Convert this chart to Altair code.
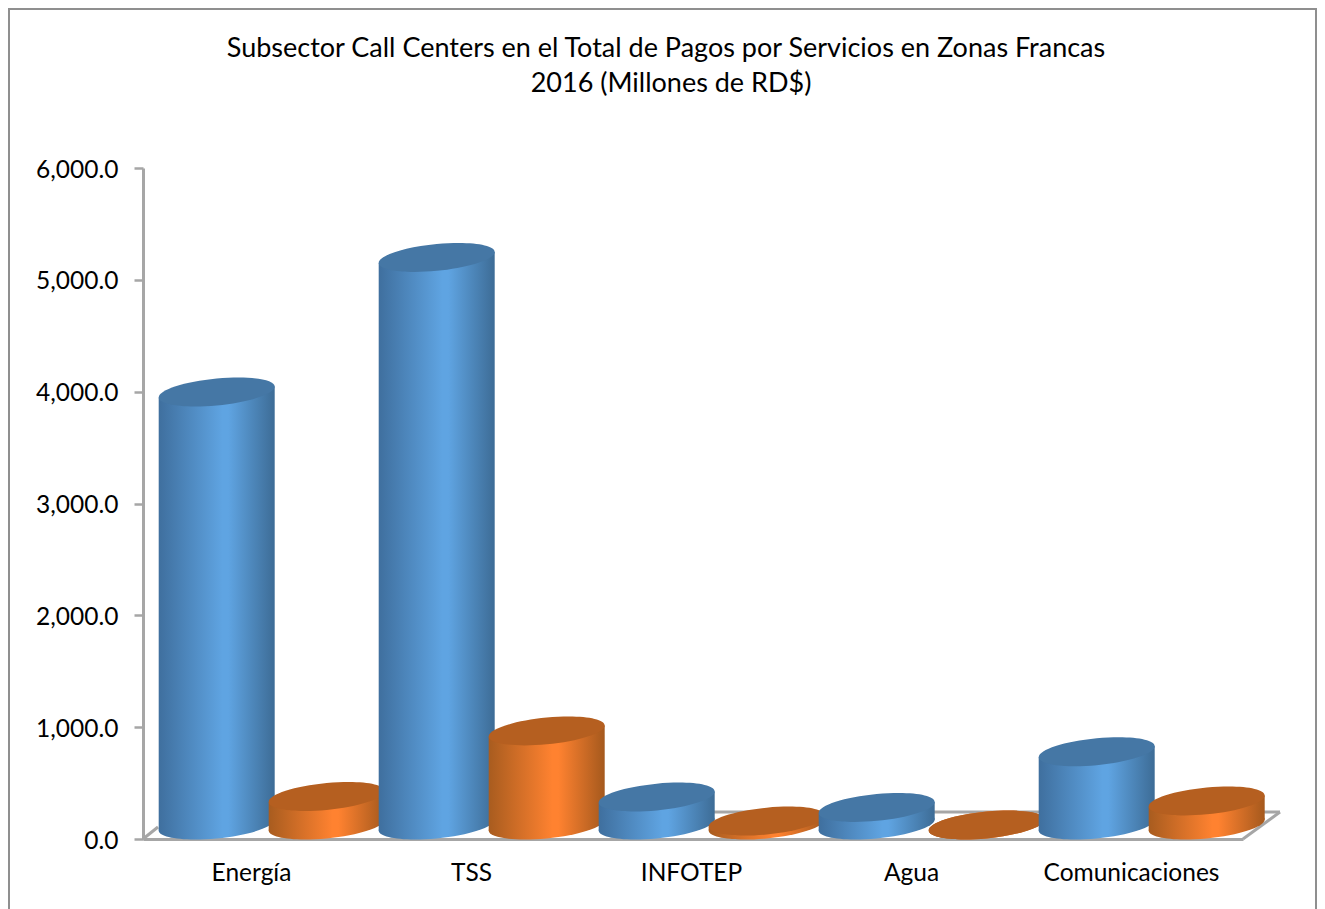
import altair as alt
import pandas as pd

title_lines = ["Subsector Call Centers en el Total de Pagos por Servicios en Zonas Francas",
               "2016 (Millones de RD$)"]
categories = ["Energía", "TSS", "INFOTEP", "Agua", "Comunicaciones"]
serie_total = [3997, 5200, 375, 282, 780]
serie_call = [380, 966, 160, 125, 340]
FLOOR = 125
FONT = "Lato"
GREY = "#a6a6a6"

BAR_W = 116
WIDTH = 1100
HEIGHT = 671
TILT = 49  # half of the tilt of a cylinder end, in axis units
HALF = 58 / 220  # half a cylinder, in category units


def px(v):
    return v - 143


def py(v):
    return v - 168


rows, body = [], []
for i, c in enumerate(categories):
    for name, off, v in (("total", 0.335, serie_total[i]), ("call", 0.835, serie_call[i])):
        n = len(rows)
        rows.append(dict(id=n, cat=c, pos=i + off, val=v, base=FLOOR, s=name))
        body.append(dict(id=n, pos=i + off - HALF, val=v - TILT, base=FLOOR - TILT))
        body.append(dict(id=n, pos=i + off + HALF, val=v + TILT, base=FLOOR + TILT))
df = pd.DataFrame(rows)
df_body = pd.DataFrame(body)

# sheared ellipse, unit width, vertical tangents at both ends
a, sh, b, k = 0.5, 0.0474, 0.1155, 0.5523
ELL = (f"M{a},{-sh} "
       f"C{a},{-sh + k*b} {k*a},{b - k*sh} 0,{b} "
       f"C{-k*a},{b + k*sh} {-a},{sh + k*b} {-a},{sh} "
       f"C{-a},{sh - k*b} {-k*a},{-b + k*sh} 0,{-b} "
       f"C{k*a},{-b - k*sh} {a},{-sh - k*b} {a},{-sh} Z")
ELL_SIZE = (2 * BAR_W) ** 2


def grad(dark1, mid, dark2):
    return alt.LinearGradient(
        gradient="linear", x1=0, x2=1, y1=0, y2=0,
        stops=[alt.GradientStop(color=dark1, offset=0),
               alt.GradientStop(color=mid, offset=0.55),
               alt.GradientStop(color=mid, offset=0.6),
               alt.GradientStop(color=dark2, offset=1)])


STYLE = {
    "total": dict(body=grad("#3f6f9e", "#5fa4e2", "#3d6c96"), top="#4577a5"),
    "call": dict(body=grad("#a85c1f", "#ff8230", "#a5591d"), top="#b55f20"),
}

xs = alt.Scale(domain=[0, 5], nice=False, zero=False)
ys = alt.Scale(domain=[0, 6000], nice=False, zero=False)
cat_expr = "[" + ",".join(f"'{c}'" for c in categories) + "][floor(datum.value)]"
x_axis = alt.Axis(
    title=None, values=[0.5, 1.5, 2.5, 3.5, 4.5], labelExpr=cat_expr, ticks=False,
    grid=False, domainColor=GREY, domainWidth=3, labelFont=FONT, labelFontSize=24.5,
    labelColor="black", labelPadding=22, labelOffset=-2, labelFontWeight="normal")
y_axis = alt.Axis(
    title=None, values=[0, 1000, 2000, 3000, 4000, 5000, 6000], format=",.1f", grid=False,
    domainColor=GREY, domainWidth=3, tickColor=GREY, tickWidth=2.5, tickSize=9,
    labelFont=FONT, labelFontSize=24.5, labelColor="black", labelPadding=16, labelOffset=2)
X = alt.X("pos:Q", scale=xs, axis=x_axis)
Y = alt.Y("val:Q", scale=ys, axis=y_axis)
YB = alt.Y("base:Q", scale=ys, axis=y_axis)


def seg(x1, y1, x2, y2, color=GREY, w=3):
    return alt.Chart().mark_rule(color=color, strokeWidth=w, clip=False).encode(
        x=alt.value(px(x1)), x2=alt.value(px(x2)), y=alt.value(py(y1)), y2=alt.value(py(y2)))


def label(text, x, y):
    return alt.Chart().mark_text(text=text, font=FONT, fontSize=27, color="black", align="center",
                                 baseline="middle").encode(x=alt.value(px(x)), y=alt.value(py(y)))


layers = [
    # frame
    seg(9, 9, 9, 909, "#8f8f8f", 2),
    seg(8, 9, 1317, 9, "#8f8f8f", 2),
    seg(1316, 9, 1316, 909, "#8f8f8f", 2),
    # floor
    seg(143, 839, 158, 827),
    seg(170, 812, 1280, 812),
    seg(1243, 839, 1280, 812),
    label(title_lines[0], 666, 49),
    label(title_lines[1], 671, 84),
]

for r in rows:
    st = STYLE[r["s"]]
    one = alt.datum.id == r["id"]
    layers.append(alt.Chart(df).transform_filter(one).mark_point(
        shape=ELL, filled=True, opacity=1, fill=st["body"], strokeWidth=0).encode(
        x=X, y=YB, size=alt.value(ELL_SIZE)))
    layers.append(alt.Chart(df_body).transform_filter(one).mark_area(
        orient="vertical", fill=st["body"], opacity=1).encode(
        x=X, y=Y, y2=alt.Y2("base:Q")))
    layers.append(alt.Chart(df).transform_filter(one).mark_point(
        shape=ELL, filled=True, opacity=1, fill=st["top"], strokeWidth=0).encode(
        x=X, y=Y, size=alt.value(ELL_SIZE)))

chart = alt.layer(*layers).properties(
    width=WIDTH, height=HEIGHT,
    padding={"left": 135, "top": 160, "right": 1309 - 135 - WIDTH, "bottom": 901 - 160 - HEIGHT},
    autosize=alt.AutoSizeParams(type="none"),
    background="white",
).configure_view(stroke=None)

chart.save("out.html", embed_options={"renderer": "svg", "actions": False})
